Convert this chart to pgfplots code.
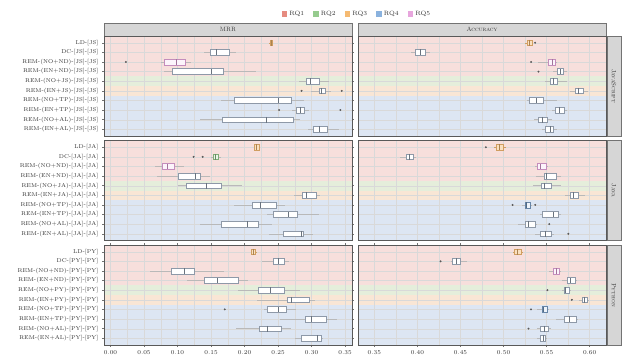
\documentclass[border=0pt]{standalone}
\usepackage{pgfplots}
\pgfplotsset{compat=1.18}
\usepgfplotslibrary{statistics}
\definecolor{rq1}{HTML}{E58B80}
\definecolor{rq2}{HTML}{96CB8E}
\definecolor{rq3}{HTML}{F5BA72}
\definecolor{rq4}{HTML}{8AB2DE}
\definecolor{rq5}{HTML}{E7A6DD}
\definecolor{band1}{HTML}{F7DFDC}
\definecolor{band2}{HTML}{E5EEDB}
\definecolor{band3}{HTML}{F9E6D5}
\definecolor{band4}{HTML}{DDE6F3}
\definecolor{boxgray}{HTML}{8E99A8}
\definecolor{stripgray}{HTML}{D6D6D6}
\pgfplotsset{
  panel/.style={scale only axis, width=248pt, height=100pt, anchor=north west,
    y dir=reverse, ymin=0.3, ymax=10.7, ytick={1,...,10},
    xmajorgrids, xminorgrids, ymajorgrids, minor x tick num=1,
    grid style={draw=gray!30, line width=0.3pt},
    minor grid style={draw=gray!30, line width=0.3pt},
    axis line style={draw=black!65, line width=0.6pt},
    tick align=outside, major tick length=2pt,
    minor x tick style={draw=none},
    tick style={black!55, line width=0.4pt},
    xticklabel style={font=\fontsize{6}{7}\selectfont, text=black!80,
      /pgf/number format/.cd, fixed, fixed zerofill, precision=2},
    yticklabel style={font=\fontsize{5.6}{6.5}\selectfont, text=black!80},
    boxplot/draw direction=x, boxplot/box extend=0.6, boxplot/whisker extend=0,
  },
  leftcol/.style={panel, xmin=-0.0097, xmax=0.3603, xtick={0,0.05,0.10,0.15,0.20,0.25,0.30,0.35}},
  rightcol/.style={panel, xmin=0.331, xmax=0.619, xtick={0.35,0.40,0.45,0.50,0.55,0.60},
    yticklabels={}, major y tick style={draw=none}},
  notop/.style={xticklabels={}, major x tick style={draw=none}},
  gbox/.style={draw=boxgray, fill=white, line width=0.5pt,
    boxplot/every median/.style={draw=boxgray!75!black, line width=0.9pt},
    boxplot/every whisker/.style={draw=gray!55, line width=0.4pt}},
  obox/.style={draw=rq3!85!black, fill=rq3!45, line width=0.5pt,
    boxplot/every median/.style={draw=rq3!70!black, line width=0.9pt},
    boxplot/every whisker/.style={draw=rq3!85!black, line width=0.4pt}},
  pbox/.style={draw=rq5!85!black, fill=rq5!12, line width=0.5pt,
    boxplot/every median/.style={draw=rq5!70!black, line width=0.9pt},
    boxplot/every whisker/.style={draw=gray!55, line width=0.4pt}},
  grbox/.style={draw=rq2!85!black, fill=rq2!20, line width=0.5pt,
    boxplot/every median/.style={draw=rq2!70!black, line width=0.9pt},
    boxplot/every whisker/.style={draw=gray!55, line width=0.4pt}},
  bbox/.style={draw=rq4!75!black, fill=rq4!15, line width=0.5pt,
    boxplot/every median/.style={draw=rq4!60!black, line width=0.9pt},
    boxplot/every whisker/.style={draw=gray!55, line width=0.4pt}},
  outl/.style={only marks, mark=*, mark size=0.75pt, draw=black!65, fill=black!65},
}
\newcommand{\bp}[7][gbox]{\addplot[#1, boxplot prepared={draw position=#2, lower whisker=#3, lower quartile=#4, median=#5, upper quartile=#6, upper whisker=#7}] coordinates {};}
% background bands of a panel whose top left corner is (#1,#2) in pt
\newcommand{\bands}[2]{%
  \fill[band1] (#1pt,-#2pt) rectangle ++(248pt,-40.385pt);
  \fill[band2] (#1pt,-#2pt-40.385pt) rectangle ++(248pt,-9.615pt);
  \fill[band3] (#1pt,-#2pt-50pt) rectangle ++(248pt,-9.615pt);
  \fill[band4] (#1pt,-#2pt-59.615pt) rectangle ++(248pt,-40.385pt);
}
\begin{document}
\begin{tikzpicture}
\useasboundingbox (0,0) rectangle (640pt,-364pt);
% strips
\filldraw[fill=stripgray, draw=black!55, line width=0.5pt] (104pt,-23pt) rectangle (352pt,-36pt);
\filldraw[fill=stripgray, draw=black!55, line width=0.5pt] (358pt,-23pt) rectangle (606pt,-36pt);
\node[font=\fontsize{6.2}{7}\selectfont, text=black!80] at (228pt,-29.5pt) {\textsc{MRR}};
\node[font=\fontsize{6.2}{7}\selectfont, text=black!80] at (482pt,-29.5pt) {\textsc{Accuracy}};
\filldraw[fill=stripgray, draw=black!55, line width=0.5pt] (607pt,-36pt) rectangle (621pt,-136pt);
\filldraw[fill=stripgray, draw=black!55, line width=0.5pt] (607pt,-140.5pt) rectangle (621pt,-240.5pt);
\filldraw[fill=stripgray, draw=black!55, line width=0.5pt] (607pt,-245pt) rectangle (621pt,-345pt);
\node[rotate=-90, font=\fontsize{6.2}{7}\selectfont, text=black!80] at (614pt,-86pt) {\textsc{JavaScript}};
\node[rotate=-90, font=\fontsize{6.2}{7}\selectfont, text=black!80] at (614pt,-190.5pt) {\textsc{Java}};
\node[rotate=-90, font=\fontsize{6.2}{7}\selectfont, text=black!80] at (614pt,-295pt) {\textsc{Python}};
\bands{104}{36}
\bands{358}{36}
\bands{104}{140.5}
\bands{358}{140.5}
\bands{104}{245}
\bands{358}{245}

% ---------- JavaScript MRR ----------
\begin{axis}[leftcol, notop, at={(104pt,-36pt)},
  yticklabels={{LD-[JS]},{DC-[JS]-[JS]},{REM-(NO+ND)-[JS]-[JS]},{REM-(EN+ND)-[JS]-[JS]},{REM-(NO+JS)-[JS]-[JS]},{REM-(EN+JS)-[JS]-[JS]},{REM-(NO+TP)-[JS]-[JS]},{REM-(EN+TP)-[JS]-[JS]},{REM-(NO+AL)-[JS]-[JS]},{REM-(EN+AL)-[JS]-[JS]}},
  legend style={at={(1.02,1.22)}, anchor=center, legend columns=5, draw=none, fill=none,
    font=\fontsize{6.2}{7}\selectfont, text=black!80,
    /tikz/every even column/.append style={column sep=7pt}},
  legend image code/.code={\fill[#1, draw=none] (0pt,-2.8pt) rectangle (5.6pt,2.8pt);}]
\addlegendimage{fill=rq1}\addlegendentry{RQ1}
\addlegendimage{fill=rq2}\addlegendentry{RQ2}
\addlegendimage{fill=rq3}\addlegendentry{RQ3}
\addlegendimage{fill=rq4}\addlegendentry{RQ4}
\addlegendimage{fill=rq5}\addlegendentry{RQ5}
\bp[obox]{1}{0.237}{0.2385}{0.240}{0.2415}{0.243}
\bp{2}{0.139}{0.149}{0.158}{0.1765}{0.1875}
\bp[pbox]{3}{0.075}{0.080}{0.098}{0.112}{0.120}
\bp{4}{0.080}{0.092}{0.150}{0.168}{0.2175}
\bp{5}{0.2815}{0.292}{0.299}{0.312}{0.3265}
\bp{6}{0.299}{0.3115}{0.315}{0.3205}{0.329}
\bp{7}{0.165}{0.184}{0.2505}{0.269}{0.289}
\bp{8}{0.2715}{0.2775}{0.283}{0.289}{0.2965}
\bp{9}{0.134}{0.1665}{0.2325}{0.2725}{0.282}
\bp{10}{0.294}{0.3025}{0.312}{0.323}{0.3415}
\addplot[outl] coordinates {(0.023,3) (0.285,6) (0.345,6) (0.2515,8) (0.343,8)};
\end{axis}

% ---------- JavaScript Accuracy ----------
\begin{axis}[rightcol, notop, at={(358pt,-36pt)}]
\bp[obox]{1}{0.525}{0.527}{0.5298}{0.5328}{0.534}
\bp{2}{0.392}{0.398}{0.403}{0.409}{0.4147}
\bp[pbox]{3}{0.5406}{0.552}{0.557}{0.5598}{0.562}
\bp{4}{0.558}{0.5625}{0.5656}{0.5695}{0.5733}
\bp{5}{0.548}{0.554}{0.558}{0.5625}{0.5733}
\bp{6}{0.577}{0.583}{0.5875}{0.5925}{0.598}
\bp{7}{0.527}{0.5298}{0.538}{0.5463}{0.5625}
\bp{8}{0.556}{0.5598}{0.5648}{0.570}{0.5733}
\bp{9}{0.5348}{0.5406}{0.545}{0.551}{0.556}
\bp{10}{0.5445}{0.549}{0.554}{0.558}{0.5625}
\addplot[outl] coordinates {(0.5367,1) (0.532,3) (0.5406,4)};
\end{axis}

% ---------- Java MRR ----------
\begin{axis}[leftcol, notop, at={(104pt,-140.5pt)},
  yticklabels={{LD-[JA]},{DC-[JA]-[JA]},{REM-(NO+ND)-[JA]-[JA]},{REM-(EN+ND)-[JA]-[JA]},{REM-(NO+JA)-[JA]-[JA]},{REM-(EN+JA)-[JA]-[JA]},{REM-(NO+TP)-[JA]-[JA]},{REM-(EN+TP)-[JA]-[JA]},{REM-(NO+AL)-[JA]-[JA]},{REM-(EN+AL)-[JA]-[JA]}}]
\bp[obox]{1}{0.2135}{0.215}{0.218}{0.2215}{0.223}
\bp[grbox]{2}{0.150}{0.153}{0.157}{0.1615}{0.165}
\bp[pbox]{3}{0.0665}{0.0775}{0.0855}{0.095}{0.109}
\bp{4}{0.069}{0.1005}{0.1265}{0.134}{0.149}
\bp{5}{0.1005}{0.1125}{0.1425}{0.1645}{0.1955}
\bp{6}{0.274}{0.2865}{0.293}{0.3065}{0.313}
\bp{7}{0.184}{0.2115}{0.224}{0.2475}{0.260}
\bp{8}{0.234}{0.243}{0.2655}{0.278}{0.3115}
\bp{9}{0.134}{0.165}{0.2045}{0.220}{0.2415}
\bp{10}{0.2365}{0.2575}{0.2855}{0.2875}{0.3015}
\addplot[outl] coordinates {(0.124,2) (0.1375,2)};
\end{axis}

% ---------- Java Accuracy ----------
\begin{axis}[rightcol, notop, at={(358pt,-140.5pt)}]
\bp[obox]{1}{0.489}{0.4919}{0.4953}{0.4996}{0.503}
\bp{2}{0.380}{0.3872}{0.391}{0.395}{0.3988}
\bp[pbox]{3}{0.5364}{0.5395}{0.543}{0.5492}{0.552}
\bp{4}{0.5376}{0.547}{0.550}{0.5608}{0.5663}
\bp{5}{0.5345}{0.5442}{0.548}{0.555}{0.5663}
\bp{6}{0.5713}{0.5771}{0.5814}{0.5868}{0.5946}
\bp[bbox]{7}{0.521}{0.5248}{0.5267}{0.5306}{0.5326}
\bp{8}{0.5423}{0.545}{0.5577}{0.5636}{0.5663}
\bp{9}{0.517}{0.5248}{0.5287}{0.5364}{0.5384}
\bp{10}{0.5364}{0.5422}{0.5488}{0.555}{0.5585}
\addplot[outl] coordinates {(0.4795,1) (0.5105,7) (0.5368,7) (0.5531,9) (0.5752,10)};
\end{axis}

% ---------- Python MRR ----------
\begin{axis}[leftcol, at={(104pt,-245pt)},
  yticklabels={{LD-[PY]},{DC-[PY]-[PY]},{REM-(NO+ND)-[PY]-[PY]},{REM-(EN+ND)-[PY]-[PY]},{REM-(NO+PY)-[PY]-[PY]},{REM-(EN+PY)-[PY]-[PY]},{REM-(NO+TP)-[PY]-[PY]},{REM-(EN+TP)-[PY]-[PY]},{REM-(NO+AL)-[PY]-[PY]},{REM-(EN+AL)-[PY]-[PY]}}]
\bp[obox]{1}{0.209}{0.2105}{0.2135}{0.2165}{0.218}
\bp{2}{0.2265}{0.243}{0.2505}{0.259}{0.2665}
\bp{3}{0.059}{0.090}{0.1105}{0.125}{0.169}
\bp{4}{0.114}{0.1405}{0.159}{0.190}{0.205}
\bp{5}{0.1905}{0.220}{0.238}{0.259}{0.283}
\bp{6}{0.219}{0.264}{0.270}{0.2965}{0.305}
\bp{7}{0.229}{0.234}{0.250}{0.2615}{0.2775}
\bp{8}{0.253}{0.290}{0.3005}{0.3215}{0.338}
\bp{9}{0.1875}{0.2215}{0.234}{0.255}{0.270}
\bp{10}{0.275}{0.285}{0.309}{0.314}{0.3175}
\addplot[outl] coordinates {(0.1705,7)};
\end{axis}

% ---------- Python Accuracy ----------
\begin{axis}[rightcol, at={(358pt,-245pt)}]
\bp[obox]{1}{0.5105}{0.5122}{0.5165}{0.5211}{0.523}
\bp{2}{0.439}{0.4409}{0.4448}{0.4494}{0.4572}
\bp[pbox]{3}{0.5533}{0.558}{0.5614}{0.565}{0.567}
\bp{4}{0.5684}{0.5743}{0.5773}{0.5832}{0.585}
\bp{5}{0.568}{0.5704}{0.5723}{0.5762}{0.578}
\bp{6}{0.588}{0.5909}{0.5936}{0.5975}{0.599}
\bp[bbox]{7}{0.5386}{0.5444}{0.5467}{0.551}{0.553}
\bp{8}{0.561}{0.5704}{0.5766}{0.584}{0.587}
\bp{9}{0.539}{0.5425}{0.547}{0.552}{0.555}
\bp{10}{0.539}{0.5425}{0.546}{0.549}{0.551}
\addplot[outl] coordinates {(0.4269,2) (0.551,5) (0.5793,6) (0.5319,7) (0.529,9)};
\end{axis}
\end{tikzpicture}
\end{document}
